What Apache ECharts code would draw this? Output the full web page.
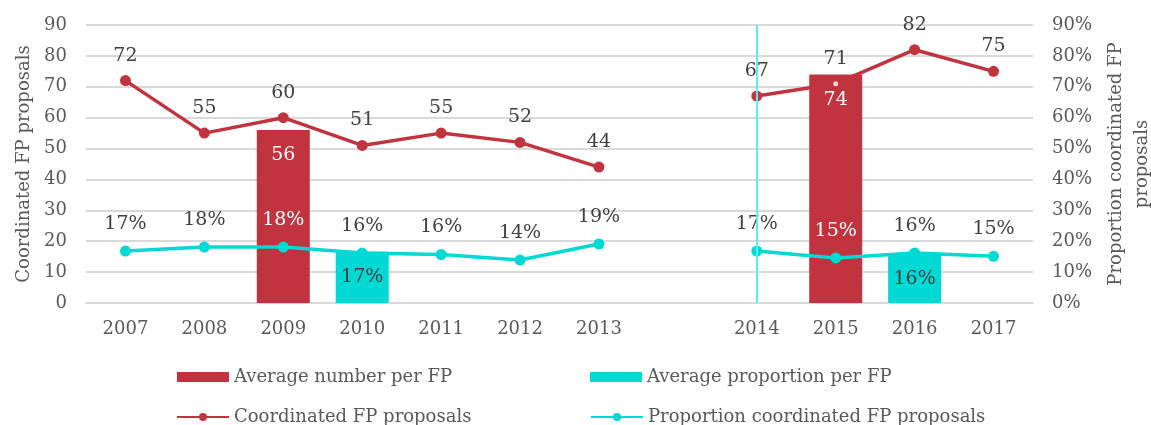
<!DOCTYPE html>
<html>
<head>
<meta charset="utf-8">
<script src="https://cdn.jsdelivr.net/npm/echarts@6/dist/echarts.min.js"></script>
<style>
  html, body { margin: 0; padding: 0; background: #fff; }
  #chart { width: 1151px; height: 425px; }
</style>
</head>
<body>
<div id="chart"></div>
<script>
// 年份（2013 与 2014 之间空一格）
const years = ['2007', '2008', '2009', '2010', '2011', '2012', '2013', '', '2014', '2015', '2016', '2017'];

// 折线数据
const coordinated = [72, 55, 60, 51, 55, 52, 44, '-', 67, 71, 82, 75];
const proportion = [0.168, 0.181, 0.181, 0.162, 0.157, 0.139, 0.191, '-', 0.168, 0.146, 0.162, 0.151];

// 柱状平均值
const avgNumber = ['-', '-', 56, '-', '-', '-', '-', '-', '-', 74, '-', '-'];
const avgProportion = ['-', '-', '-', 0.166, '-', '-', '-', '-', '-', '-', 0.16, '-'];

const RED = '#c1333f';
const CYAN = '#00d9d4';
const GREY = '#595959';
const DARK = '#404040';
const FONT = 'DejaVu Serif';

const pct = v => Math.round(v * 100) + '%';

// 折线点落在红柱上时，标签改为白色
const proportionData = proportion.map((v, i) => {
  if (v === '-') return v;
  const onRed = avgNumber[i] !== '-';
  return onRed ? { value: v, label: { color: '#fff' } } : v;
});

// 红柱内被遮住的折线点（白色小点）
const hiddenDot = coordinated.map((v, i) => (avgNumber[i] !== '-' && avgNumber[i] > v ? v : '-'));

const chart = echarts.init(document.getElementById('chart'), null, { renderer: 'canvas' });

const option = {
  backgroundColor: '#fff',
  animation: false,
  textStyle: { fontFamily: FONT },
  grid: { left: 86, right: 118, top: 25, bottom: 122, outerBoundsMode: 'none', containLabel: false },
  legend: {
    data: [
      { name: 'Average number per FP', icon: 'rect' },
      { name: 'Average proportion per FP', icon: 'rect' },
      'Coordinated FP proposals',
      'Proportion coordinated FP proposals',
    ],
    left: 176,
    top: 357,
    width: 830,
    padding: 0,
    itemWidth: 52,
    itemHeight: 10,
    itemGap: 0,
    textStyle: { color: GREY, fontSize: 18, fontFamily: FONT, width: 356, lineHeight: 40 },
  },
  xAxis: {
    type: 'category',
    data: years,
    axisLine: { lineStyle: { color: '#d9d9d9', width: 2 } },
    axisTick: { show: false },
    axisLabel: { color: GREY, fontSize: 18, margin: 17, interval: 0 },
  },
  yAxis: [
    {
      type: 'value',
      min: 0, max: 90, interval: 10,
      name: 'Coordinated FP proposals',
      nameLocation: 'middle',
      nameGap: 52,
      nameTextStyle: { color: GREY, fontSize: 18 },
      axisLabel: { color: GREY, fontSize: 18, margin: 19 },
      splitLine: { lineStyle: { color: '#d9d9d9', width: 2 } },
      axisLine: { show: false },
      axisTick: { show: false },
    },
    {
      type: 'value',
      min: 0, max: 0.9, interval: 0.1,
      name: 'Proportion coordinated FP\nproposals',
      nameLocation: 'middle',
      nameGap: 70,
      nameRotate: 90,
      nameTextStyle: { color: GREY, fontSize: 18, lineHeight: 26, align: 'center' },
      axisLabel: { color: GREY, fontSize: 18, margin: 19, formatter: pct },
      splitLine: { show: false },
      axisLine: { show: false },
      axisTick: { show: false },
    },
  ],
  series: [
    // 红色折线（在柱子下面）
    {
      name: 'Coordinated FP proposals',
      type: 'line',
      data: coordinated,
      yAxisIndex: 0,
      z: 1,
      symbol: 'circle',
      symbolSize: 11,
      lineStyle: { color: RED, width: 3.5 },
      itemStyle: { color: RED },
      label: { show: true, position: 'top', distance: 10, color: DARK, fontSize: 19 },
    },
    {
      name: 'Average number per FP',
      type: 'bar',
      data: avgNumber,
      yAxisIndex: 0,
      z: 2,
      barWidth: 53,
      barGap: '-100%',
      itemStyle: { color: RED },
      label: { show: true, position: 'insideTop', distance: 16, color: '#fff', fontSize: 19 },
    },
    {
      name: 'Average proportion per FP',
      type: 'bar',
      data: avgProportion,
      yAxisIndex: 1,
      z: 2,
      barWidth: 53,
      barGap: '-100%',
      itemStyle: { color: CYAN },
      label: { show: true, position: 'insideTop', distance: 16, color: DARK, fontSize: 19, formatter: p => pct(p.value) },
      markLine: {
        silent: true,
        symbol: 'none',
        label: { show: false },
        lineStyle: { color: '#55f2f2', width: 2, type: 'solid' },
        data: [{ xAxis: '2014' }],
      },
    },
    {
      name: 'dot',
      type: 'scatter',
      data: hiddenDot,
      yAxisIndex: 0,
      z: 3,
      symbolSize: 5,
      itemStyle: { color: '#fff' },
      silent: true,
    },
    // 青色折线（在柱子上面）
    {
      name: 'Proportion coordinated FP proposals',
      type: 'line',
      data: proportionData,
      yAxisIndex: 1,
      z: 4,
      symbol: 'circle',
      symbolSize: 11,
      lineStyle: { color: CYAN, width: 3.5 },
      itemStyle: { color: CYAN },
      label: { show: true, position: 'top', distance: 12, color: DARK, fontSize: 19, formatter: p => pct(p.value) },
    },
  ],
};

chart.setOption(option);
</script>
</body>
</html>
